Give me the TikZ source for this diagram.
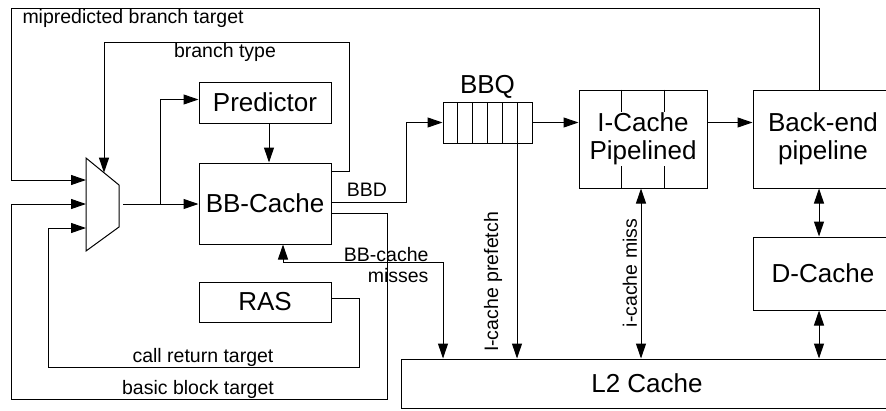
\documentclass[tikz,border=0pt]{standalone}
\usepackage{fontspec}
\setmainfont{Liberation Sans}
\usetikzlibrary{arrows.meta,calc}

\tikzset{
  box/.style={draw, inner sep=0pt, align=center, font=\fontsize{26}{28}\selectfont},
  lbl/.style={inner sep=0pt, font=\fontsize{19.5}{21}\selectfont},
  arr/.style={-{Triangle[length=15pt,width=10pt]}},
  darr/.style={{Triangle[length=15pt,width=10pt]}-{Triangle[length=15pt,width=10pt]}},
}

\begin{document}
\begin{tikzpicture}[x=1pt,y=-1pt,line width=1pt]
    \useasboundingbox (0,0) rectangle (886,410);
    \clip (0,0) rectangle (886,410);

    % boxes
    \node[box, minimum width=132pt, minimum height=41pt] (pred) at (265,102.5) {Predictor};
    \node[box, minimum width=132pt, minimum height=81pt] (bbc) at (265,203.5) {BB-Cache};
    \node[box, minimum width=132pt, minimum height=40pt] (ras) at (265,302) {RAS};
    \node[box, minimum width=89pt, minimum height=41pt] (bbq) at (487.5,122.5) {};
    \node[box, draw=none] (bbqname) at (487.5,87) {BBQ};
    \node[box, minimum width=128pt, minimum height=98pt] (icache) at (643,139) {I-Cache\\Pipelined};
    \node[box, minimum width=140pt, minimum height=98pt] (back) at (823,139) {Back-end\\pipeline};
    \node[box, minimum width=140pt, minimum height=73pt] (dcache) at (823,273.5) {D-Cache};
    \node[box, minimum width=492pt, minimum height=49pt] (l2) at (647,383.5) {L2 Cache};

    % queue cells
    \foreach \k in {1,...,5}
        \draw ($(bbq.south west)!\k/6!(bbq.south east)$) -- ($(bbq.north west)!\k/6!(bbq.north east)$);
    % pipeline stages
    \foreach \f in {0.333,0.667} {
        \draw ($(icache.north west)!\f!(icache.north east)$) -- ++(0,22);
        \draw ($(icache.south west)!\f!(icache.south east)$) -- ++(0,-23);
    }

    % mux
    \draw (86,158) -- (119,185) -- (119,227) -- (86,251) -- cycle;
    \coordinate (mux1) at (86,180);
    \coordinate (mux2) at (86,204);
    \coordinate (mux3) at (86,228);
    \coordinate (muxsel) at (104,172.7);
    \coordinate (muxout) at (123,204);
    \coordinate (split) at (160,204);

    % columns
    \coordinate (col) at (819,0);
    \coordinate (bbdturn) at (406,0);
    \coordinate (missx) at (443,0);
    \coordinate (pfx) at (517,0);

    % mispredicted branch target
    \draw[arr] (back.north -| col) |- (11,8) |- (mux1);
    \node[lbl, anchor=west] (mispl) at (22,18) {mipredicted branch target};

    % branch type
    \draw[arr] ([yshift=-9pt]bbc.north east) -| (349,42) -| (muxsel);
    \node[lbl] (typel) at (225,52) {branch type};

    % mux out
    \draw[arr] (muxout) -- (muxout -| bbc.west);
    \draw[arr] (split) |- ([yshift=3pt]pred.west);
    \draw[arr] ([xshift=4pt]pred.south) -- ([xshift=4pt]bbc.north);

    % BBD
    \draw[arr] ([yshift=1.5pt]bbc.east) -- ([yshift=1.5pt]bbc.east -| bbdturn) |- (bbq.west);
    \node[lbl] (bbdl) at (367,190) {BBD};

    % basic block target
    \draw[arr] ([yshift=-9.5pt]bbc.east) -| (387,399) -| (11,204) -- (mux2);
    \node[lbl] (bbtl) at (198,389) {basic block target};

    % call return target
    \draw[arr] ([yshift=4pt]ras.east) -| (359,367) -| (48,228) -- (mux3);
    \node[lbl] (crtl) at (203,357) {call return target};

    % BB-cache misses
    \draw[darr] ([xshift=18pt]bbc.south) -- ++(0,18) -| (l2.north -| missx);
    \node[lbl, align=right, anchor=east] (missl) at (429,265.5) {BB-cache\\misses};

    % fetch path
    \draw[arr] (bbq.east) -- (bbq.east -| icache.west);
    \draw[arr] (bbq.east -| icache.east) -- (bbq.east -| back.west);

    % prefetch
    \draw[arr] (bbq.south -| pfx) -- (l2.north -| pfx);
    \node[lbl, rotate=90] (pfl) at (493,282) {I-cache prefetch};

    % i-cache miss
    \draw[darr] ([xshift=-2pt]icache.south) -- ([xshift=-2pt]icache.south |- l2.north);
    \node[lbl, rotate=90] (icml) at (630,273) {i-cache miss};

    % data side
    \draw[darr] (back.south -| col) -- (dcache.north -| col);
    \draw[darr] (dcache.south -| col) -- (l2.north -| col);
\end{tikzpicture}
\end{document}
